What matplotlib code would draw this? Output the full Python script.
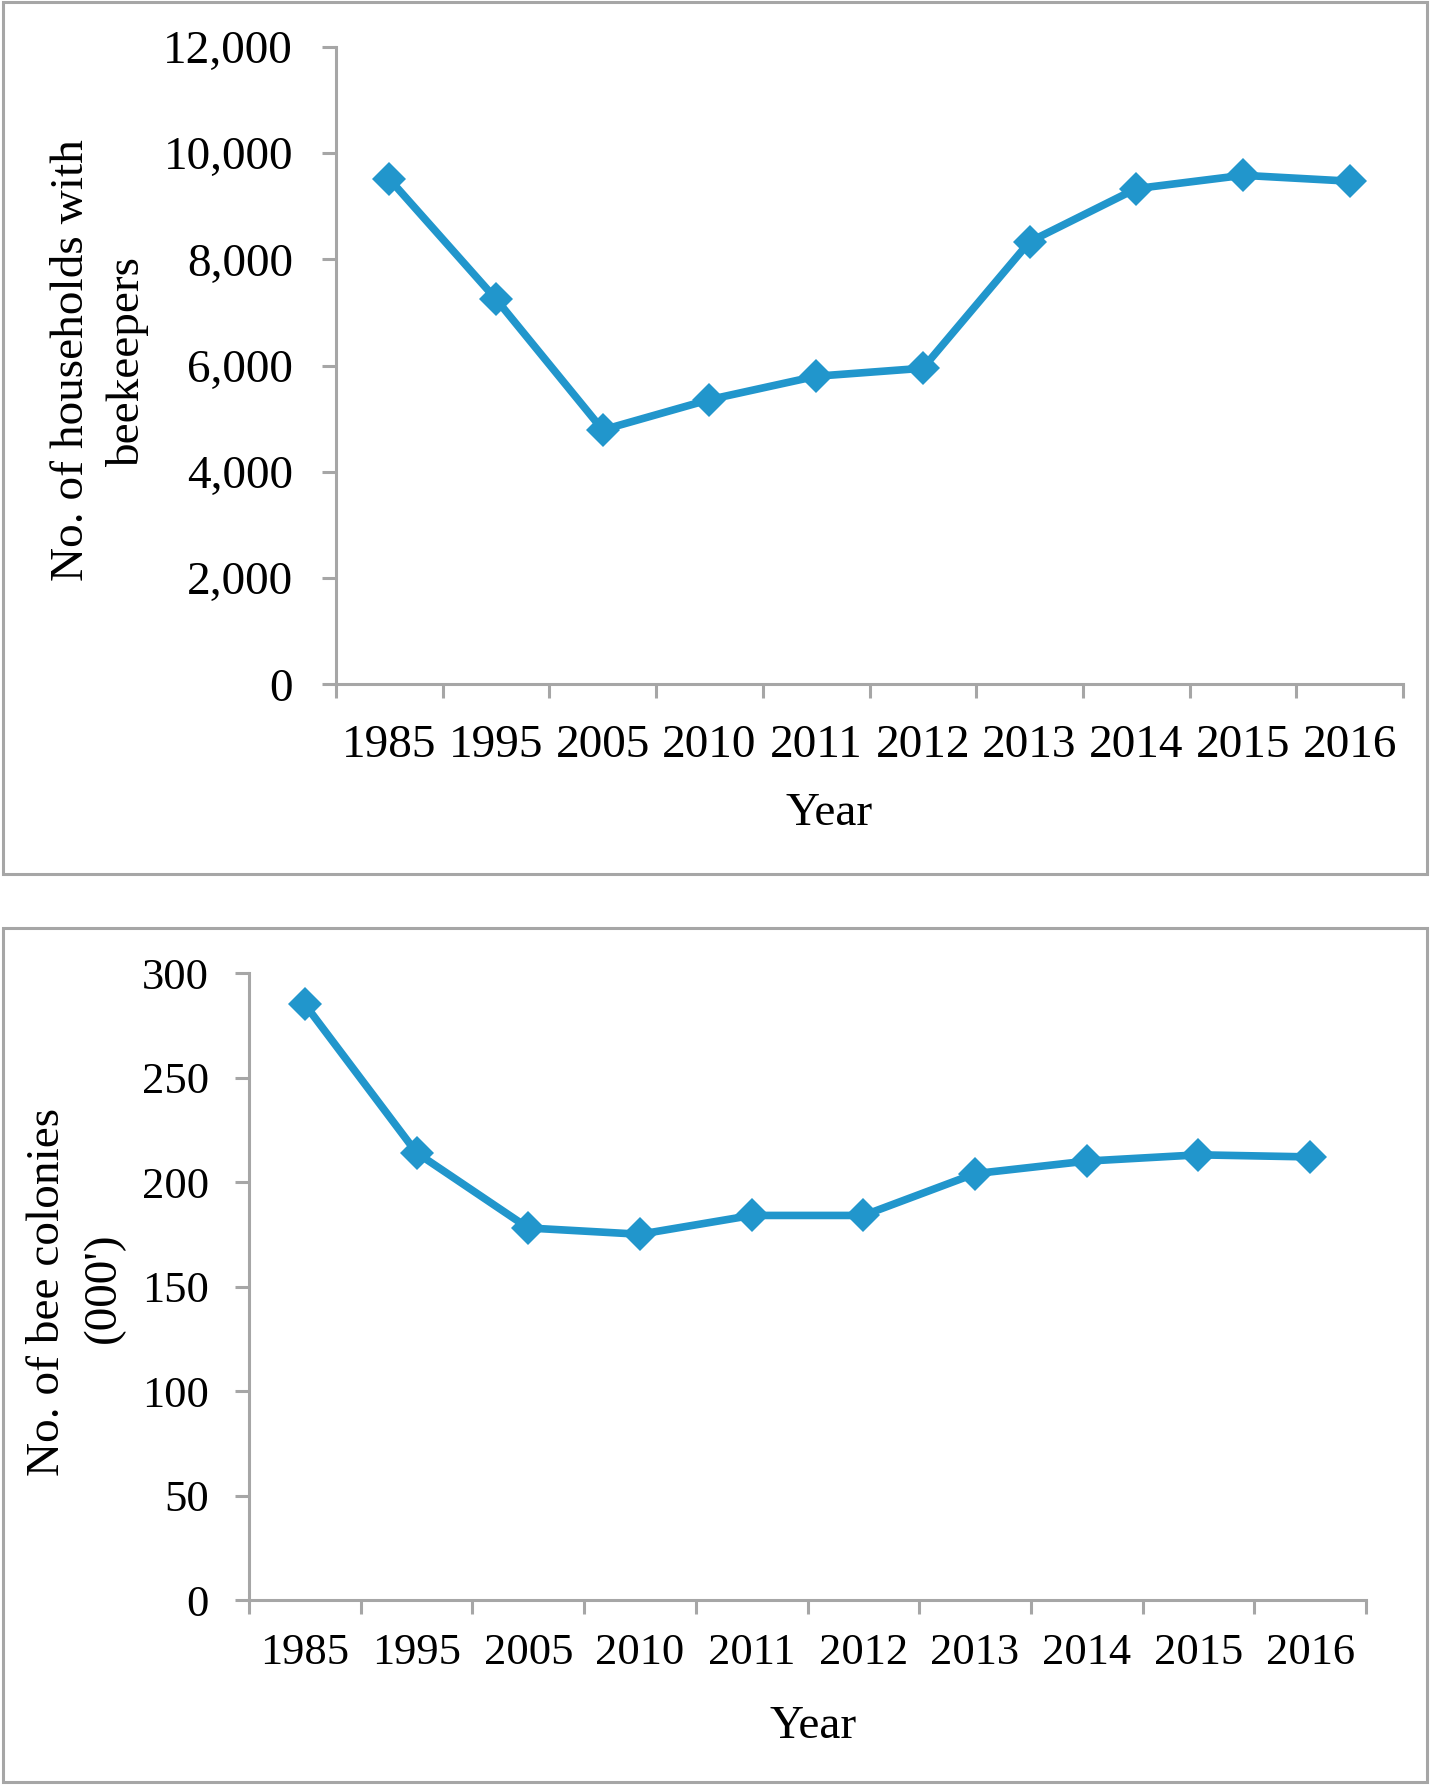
import numpy as np
import matplotlib
matplotlib.use("Agg")
from matplotlib import pyplot as plt
from matplotlib.ticker import FixedLocator, FuncFormatter
from matplotlib.patches import Rectangle

years = ["1985", "1995", "2005", "2010", "2011", "2012", "2013", "2014", "2015", "2016"]
households = [9510, 7250, 4790, 5360, 5800, 5950, 8330, 9330, 9580, 9470]
colonies = [285, 214, 178, 175, 184, 184, 204, 210, 213, 212]

plt.rcParams['font.family'] = ['Liberation Serif', 'DejaVu Serif']

LINE = '#2196cc'
GRAY = '#a6a6a6'

fig = plt.figure(figsize=(14.3, 17.85), dpi=100)

# panel frames
for y0, y1 in [(2, 874), (928, 1782)]:
    fig.patches.append(Rectangle((3 / 1430, 1 - y1 / 1785), 1424 / 1430, (y1 - y0) / 1785,
                                 transform=fig.transFigure, fill=False,
                                 edgecolor=GRAY, linewidth=2.2))


def style_axis(ax, values, ymax, ystep, fmt, tsize, ypad, xpad):
    x = np.arange(len(years))
    ax.plot(x, values, color=LINE, linewidth=5.5, marker='D', markersize=17,
            markeredgewidth=0)
    ax.set_xlim(-0.5, len(years) - 0.5)
    ax.set_ylim(0, ymax)
    ax.set_yticks(np.arange(0, ymax + 1, ystep))
    ax.yaxis.set_major_formatter(FuncFormatter(fmt))
    ax.xaxis.set_major_locator(FixedLocator(np.arange(-0.5, len(years), 1.0)))
    ax.xaxis.set_major_formatter(FuncFormatter(lambda v, p: ''))
    ax.xaxis.set_minor_locator(FixedLocator(x))
    ax.set_xticklabels(years, minor=True)
    for s in ['top', 'right']:
        ax.spines[s].set_visible(False)
    for s in ['left', 'bottom']:
        ax.spines[s].set_color(GRAY)
        ax.spines[s].set_linewidth(2.2)
    ax.tick_params(axis='both', which='major', direction='out', length=10,
                   width=2.2, color=GRAY, labelsize=tsize)
    ax.tick_params(axis='y', pad=ypad)
    ax.tick_params(axis='x', which='minor', length=0, labelsize=tsize, pad=xpad)
    ax.spines['left'].set_bounds(0, ymax)


ax1 = fig.add_axes([336 / 1430, 1 - 684.5 / 1785, 1067 / 1430, 637.8 / 1785])
style_axis(ax1, households, 12000, 2000, lambda v, p: f"{int(v):,}", 34, 21, 29)

ax2 = fig.add_axes([249 / 1430, 1 - 1600 / 1785, 1117 / 1430, 627 / 1785])
style_axis(ax2, colonies, 300, 50, lambda v, p: f"{int(v)}", 32, 19, 24)

# axis titles, one text per line
fig.text(72 / 1430, 1 - 360 / 1785, "No. of households with", rotation=90,
         ha='center', va='center', fontsize=34)
fig.text(128 / 1430, 1 - 362 / 1785, "beekeepers", rotation=90,
         ha='center', va='center', fontsize=34)
fig.text(829 / 1430, 1 - 814 / 1785, "Year", ha='center', va='center', fontsize=34)

fig.text(48 / 1430, 1 - 1292 / 1785, "No. of bee colonies", rotation=90,
         ha='center', va='center', fontsize=34)
fig.text(104 / 1430, 1 - 1288 / 1785, "(000')", rotation=90,
         ha='center', va='center', fontsize=34)
fig.text(813 / 1430, 1 - 1727 / 1785, "Year", ha='center', va='center', fontsize=34)

fig.savefig("out.png", dpi=100)
